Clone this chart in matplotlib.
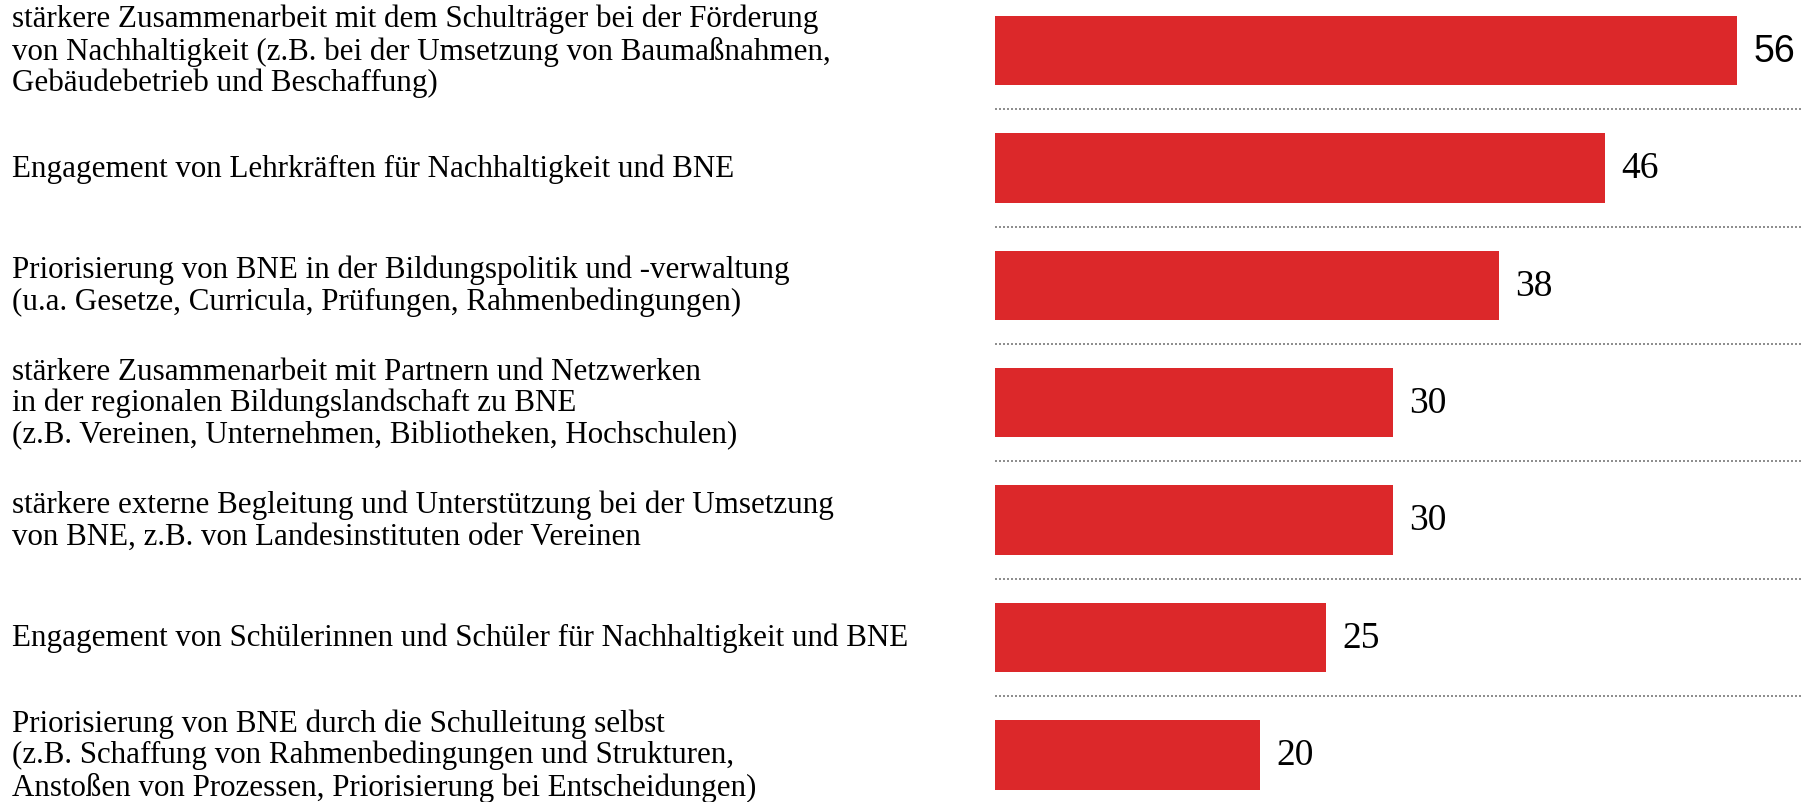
import matplotlib.pyplot as plt
import matplotlib.transforms as mtransforms

labels = [
    "stärkere Zusammenarbeit mit dem Schulträger bei der Förderung\n"
    "von Nachhaltigkeit (z.B. bei der Umsetzung von Baumaßnahmen,\n"
    "Gebäudebetrieb und Beschaffung)",
    "Engagement von Lehrkräften für Nachhaltigkeit und BNE",
    "Priorisierung von BNE in der Bildungspolitik und -verwaltung\n"
    "(u.a. Gesetze, Curricula, Prüfungen, Rahmenbedingungen)",
    "stärkere Zusammenarbeit mit Partnern und Netzwerken\n"
    "in der regionalen Bildungslandschaft zu BNE\n"
    "(z.B. Vereinen, Unternehmen, Bibliotheken, Hochschulen)",
    "stärkere externe Begleitung und Unterstützung bei der Umsetzung\n"
    "von BNE, z.B. von Landesinstituten oder Vereinen",
    "Engagement von Schülerinnen und Schüler für Nachhaltigkeit und BNE",
    "Priorisierung von BNE durch die Schulleitung selbst\n"
    "(z.B. Schaffung von Rahmenbedingungen und Strukturen,\n"
    "Anstoßen von Prozessen, Priorisierung bei Entscheidungen)",
]
values = [56, 46, 38, 30, 30, 25, 20]

bar_color = "#DC282A"

fig = plt.figure(figsize=(18.01, 8.03), dpi=100)
ax = fig.add_axes([995 / 1801, 0, 806 / 1801, 1])

pos = list(range(len(values)))
ax.barh(pos, values, height=0.59, color=bar_color)

ax.set_xlim(0, 60.8)
ax.set_ylim(6.401, -0.4387)
ax.axis("off")

# dotted separators between bars
for i in range(len(values) - 1):
    ax.axhline(i + 0.5, xmin=0, xmax=1, color="#8f8f8f",
               linewidth=1.44, linestyle=(0, (1, 1)))

# category labels on the left of the figure
trans = mtransforms.blended_transform_factory(fig.transFigure, ax.transData)
for i, lab in enumerate(labels):
    ax.text(11.5 / 1801, i, lab, transform=trans, ha="left", va="center",
            fontsize=22.3, family="Liberation Serif", linespacing=1.1,
            clip_on=False)

# value labels
for i, v in enumerate(values):
    fam = "Liberation Sans" if i == 0 else "Liberation Serif"
    ax.annotate(str(v), xy=(v, i), xytext=(11.5, 0), textcoords="offset points",
                ha="left", va="center", fontsize=27, family=fam,
                annotation_clip=False)

fig.savefig("out.png", dpi=100)
